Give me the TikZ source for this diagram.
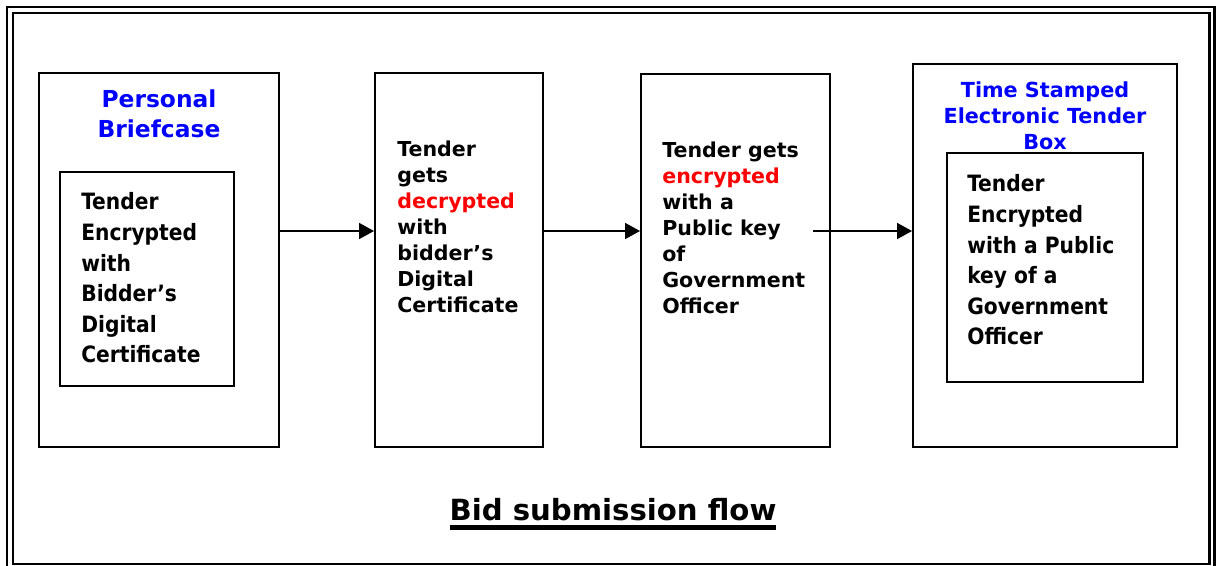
\documentclass[tikz,border=0pt]{standalone}
\usepackage{fontspec}
\usetikzlibrary{arrows.meta}
\setmainfont{DejaVu Sans}
\newfontfamily\narrowfont{DejaVu Sans Condensed}
\definecolor{headblue}{RGB}{0,0,255}
\definecolor{keyred}{RGB}{255,0,0}
\newcommand\capline[1]{\leavevmode\setbox0\hbox{#1}\rlap{\rule[-5.4pt]{\wd0}{2.6pt}}\box0}

\begin{document}
\begin{tikzpicture}[x=0.02cm,y=-0.02cm]
    \tikzset{box/.style={draw=black,line width=1.1pt,inner sep=0pt}}
    \tikzset{head/.style={inner sep=0pt,anchor=north,align=center,text=headblue}}
    \tikzset{txt/.style={inner sep=0pt,anchor=north west,align=left,font=\bfseries\fontsize{11.7}{14.8}\selectfont}}
    \tikzset{inner/.style={inner sep=0pt,anchor=north west,align=left,font=\narrowfont\bfseries\fontsize{12.8}{17.4}\selectfont}}
    \tikzset{edge/.style={line width=1.1pt}}

    \useasboundingbox (0,0) rectangle (1216,565);

    % page frame
    \draw[line width=1.35pt] (7,7) rectangle (1214.3,575);
    \draw[line width=1.35pt] (12.7,13.3) rectangle (1209.5,564);

    \node[box,minimum width=4.8cm,minimum height=7.48cm] (b1) at (159,260) {};
    \node[box,minimum width=3.48cm,minimum height=4.28cm] (b1i) at (147,279) {};
    \node[box,minimum width=3.36cm,minimum height=7.48cm] (b2) at (459,260) {};
    \node[box,minimum width=3.78cm,minimum height=7.46cm] (b3) at (735.5,260.5) {};
    \node[box,minimum width=5.28cm,minimum height=7.66cm] (b4) at (1045,255.5) {};
    \node[box,minimum width=3.92cm,minimum height=4.58cm] (b4i) at (1045,267.5) {};

    \node[head,font=\bfseries\fontsize{13.3}{17.1}\selectfont] (h1) at (159,89.5) {Personal\\Briefcase};
    \node[head,font=\bfseries\fontsize{11.8}{14.8}\selectfont] (h4) at (1045,81.5) {Time Stamped\\Electronic Tender\\Box};

    \node[inner] (t1) at (81,192.5) {Tender\\Encrypted\\with\\Bidder’s\\Digital\\Certificate};
    \node[txt] (t2) at (397,140.5) {Tender\\gets\\{\color{keyred}decrypted}\\with\\bidder’s\\Digital\\Certificate};
    \node[txt] (t3) at (662,142) {Tender gets\\{\color{keyred}encrypted}\\with a\\Public key\\of\\Government\\Officer};
    \node[inner] (t4) at (967,174.5) {Tender\\Encrypted\\with a Public\\key of a\\Government\\Officer};

    \node[inner sep=0pt,anchor=north,font=\bfseries\fontsize{16.6}{20}\selectfont] (cap) at (613,498) {\capline{Bid submission flow}};

    \coordinate (row) at (0,231);
    \coordinate (a3) at (813,231);

    \begin{scope}[every path/.style={-{Triangle[length=8.5pt,width=9pt]}}]
       \draw[edge] (b1.east |- row) -- (b2.west |- row);
       \draw[edge] (b2.east |- row) -- (b3.west |- row);
       \draw[edge] (a3) -- (b4.west |- row);
    \end{scope}
\end{tikzpicture}
\end{document}
